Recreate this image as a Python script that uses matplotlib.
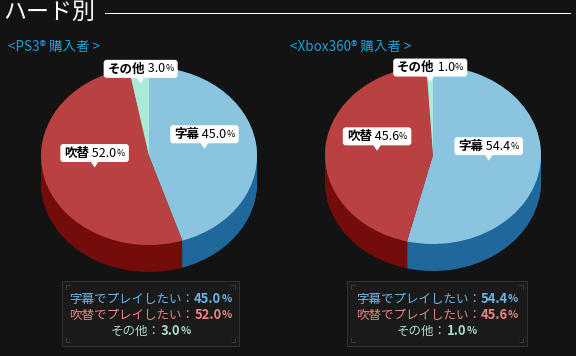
import matplotlib

matplotlib.use("Agg")
import matplotlib.pyplot as plt
from matplotlib.patches import FancyBboxPatch, Polygon, Rectangle
import numpy as np

plt.rcParams["font.family"] = ["Noto Sans CJK JP", "DejaVu Sans"]

# data
slice_names = ["字幕", "吹替", "その他"]
legend_names = ["字幕でプレイしたい", "吹替でプレイしたい", "その他"]
ps3_values = [45.0, 52.0, 3.0]
xbox_values = [54.4, 45.6, 1.0]
panel_titles = ["<PS3® 購入者 >", "<Xbox360® 購入者 >"]

BG = "#131313"
TOP_COLORS = ["#8ac4de", "#b94141", "#abead7"]
SIDE_COLORS = ["#1f689c", "#740c0c", "#3d9c80"]
TEXT_COLORS = ["#6cb6e8", "#ec8484", "#a9dcc4"]

W, H = 576, 356
fig = plt.figure(figsize=(W / 72, H / 72), dpi=72, facecolor=BG)
ov = fig.add_axes([0, 0, 1, 1], zorder=5)
ov.set_xlim(0, W)
ov.set_ylim(H, 0)
ov.axis("off")
ov.patch.set_alpha(0)
fig.canvas.draw()
renderer = fig.canvas.get_renderer()


def place_pieces(x, y, pieces, color):
    """Draw a row of text pieces centered on (x, y); return (left, right)."""
    texts = [ov.text(0, y, s, color=color, va="center", ha="left", **kw) for s, kw in pieces]
    widths = [t.get_window_extent(renderer).width for t in texts]
    left = x - sum(widths) / 2
    cur = left
    for t, w in zip(texts, widths):
        t.set_x(cur)
        cur += w
    return left, cur


def draw_pie(values, cx, cy, rx=108, ry=89, depth=27):
    ax = fig.add_axes([(cx - 125) / W, (H - (cy + 135)) / H, 250 / W, 235 / H], zorder=2)
    steps = depth + 1
    for i in range(steps):
        ax.pie(values, colors=SIDE_COLORS, startangle=90, counterclock=False,
               center=(0, -depth / ry * (steps - 1 - i) / (steps - 1)),
               wedgeprops=dict(linewidth=0))
    wedges, _ = ax.pie(values, colors=TOP_COLORS, startangle=90, counterclock=False,
                       wedgeprops=dict(linewidth=0))
    ax.set_aspect("auto")
    ax.set_xlim(-125 / rx, 125 / rx)
    ax.set_ylim(-135 / ry, 100 / ry)
    ax.axis("off")

    inv = ov.transData.inverted()
    for k, w in enumerate(wedges):
        mid = np.deg2rad((w.theta1 + w.theta2) / 2)
        r = 0.52 if values[k] > 10 else 0.82
        tx, ty = inv.transform(ax.transData.transform((r * np.cos(mid), r * np.sin(mid))))
        ov.add_patch(Polygon([(tx - 4, ty - 6), (tx + 4, ty - 6), (tx, ty)],
                             closed=True, facecolor="white", edgecolor="none", zorder=6))
        by = ty - 14.5
        left, right = place_pieces(tx, by, [
            (slice_names[k], dict(fontsize=12.5, fontweight="bold", zorder=8)),
            (f" {values[k]:.1f}", dict(fontsize=12.5, zorder=8)),
            ("%", dict(fontsize=9, zorder=8)),
        ], "black")
        ov.add_patch(FancyBboxPatch((left - 4, by - 9), right - left + 8, 18,
                                    boxstyle="round,pad=0,rounding_size=3",
                                    facecolor="white", edgecolor="none", zorder=7))


def draw_legend(values, x0, x1, y0=281, y1=346):
    ov.add_patch(Rectangle((x0, y0), x1 - x0, y1 - y0, facecolor="#1a1a1a",
                           edgecolor="#333333", linewidth=1, zorder=3))
    for (cx, cy, sx, sy) in [(x0 + 4, y0 + 4, 1, 1), (x1 - 4, y0 + 4, -1, 1),
                             (x0 + 4, y1 - 4, 1, -1), (x1 - 4, y1 - 4, -1, -1)]:
        ov.plot([cx, cx + 4 * sx], [cy, cy], color="#444444", lw=0.8, zorder=4)
        ov.plot([cx, cx], [cy, cy + 4 * sy], color="#444444", lw=0.8, zorder=4)
    xc = (x0 + x1) / 2
    for k, (name, v) in enumerate(zip(legend_names, values)):
        place_pieces(xc, 299 + 16 * k, [
            (f"{name}：", dict(fontsize=12.5, zorder=6)),
            (f"{v:.1f}", dict(fontsize=13, fontweight="semibold", zorder=6)),
            ("%", dict(fontsize=10.5, fontweight="semibold", zorder=6)),
        ], TEXT_COLORS[k])


# header
ov.text(3, 12, "ハード別", color="white", fontsize=23, va="center", ha="left")
ov.plot([105, 570], [12.5, 12.5], color="white", lw=1)
ov.text(8, 47, panel_titles[0], color="#1aa0d9", fontsize=13.5, va="center", ha="left")
ov.text(290, 47, panel_titles[1], color="#1aa0d9", fontsize=13.5, va="center", ha="left")

draw_pie(ps3_values, 149, 156)
draw_pie(xbox_values, 433, 155)
draw_legend(ps3_values, 62, 239)
draw_legend(xbox_values, 347, 527)

fig.savefig("out.png", dpi=72, facecolor=BG)
